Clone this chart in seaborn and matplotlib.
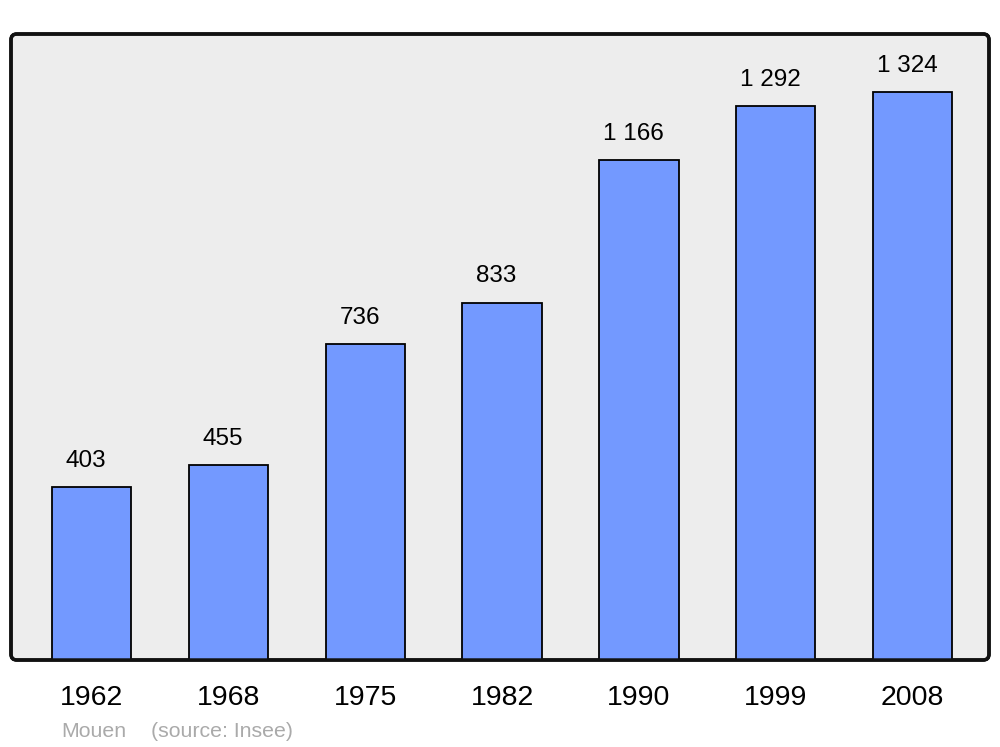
import matplotlib
matplotlib.use("Agg")
import matplotlib.pyplot as plt
from matplotlib.patches import FancyBboxPatch
import seaborn as sns
import pandas as pd

years = ["1962", "1968", "1975", "1982", "1990", "1999", "2008"]
population = [403, 455, 736, 833, 1166, 1292, 1324]
commune = "Mouen"
source = "(source: Insee)"

df = pd.DataFrame({"year": years, "pop": population})

sns.set_style("white")
plt.rcParams["font.family"] = ["Liberation Sans", "DejaVu Sans"]
plt.rcParams["text.color"] = "black"
plt.rcParams["xtick.color"] = "black"

fig = plt.figure(figsize=(10, 7.47), dpi=100)
ax = fig.add_axes([0.011, 1 - 660 / 747, 0.978, 626 / 747])

sns.barplot(data=df, x="year", y="pop", color="#7399ff", saturation=1,
            width=0.58, edgecolor="black", linewidth=1.3, ax=ax)

ax.set_facecolor("none")
ax.set_xlim(-0.59, 6.56)
ax.set_ylim(0, 1459)
for s in ax.spines.values():
    s.set_visible(False)

# rounded frame behind the bars
frame = FancyBboxPatch((0, 0), 1, 1, boxstyle="round,pad=0,rounding_size=0.006",
                       transform=ax.transAxes, facecolor="#ededed",
                       edgecolor="#111111", linewidth=2.5, zorder=0.5,
                       clip_on=False, mutation_aspect=978 / 626)
ax.add_patch(frame)
border = FancyBboxPatch((0, 0), 1, 1, boxstyle="round,pad=0,rounding_size=0.006",
                        transform=ax.transAxes, facecolor="none",
                        edgecolor="#111111", linewidth=2.5, zorder=5,
                        clip_on=False, mutation_aspect=978 / 626)
ax.add_patch(border)

ax.set_xlabel("")
ax.set_ylabel("")
ax.set_yticks([])
ax.tick_params(axis="x", length=0, pad=18, labelsize=20.5)

for p, v in zip(ax.patches, population):
    label = f"{v:,}".replace(",", " ")
    ax.annotate(label, (p.get_x() + p.get_width() / 2 - 0.04, p.get_height()),
                xytext=(0, 14.5), textcoords="offset points",
                ha="center", va="baseline", fontsize=17.5)

fig.text(0.061, 0.0134, commune, color="#aaaaaa", fontsize=15.3, va="baseline")
fig.text(0.151, 0.0134, source, color="#aaaaaa", fontsize=15.3, va="baseline")

fig.savefig("out.png", dpi=100)
